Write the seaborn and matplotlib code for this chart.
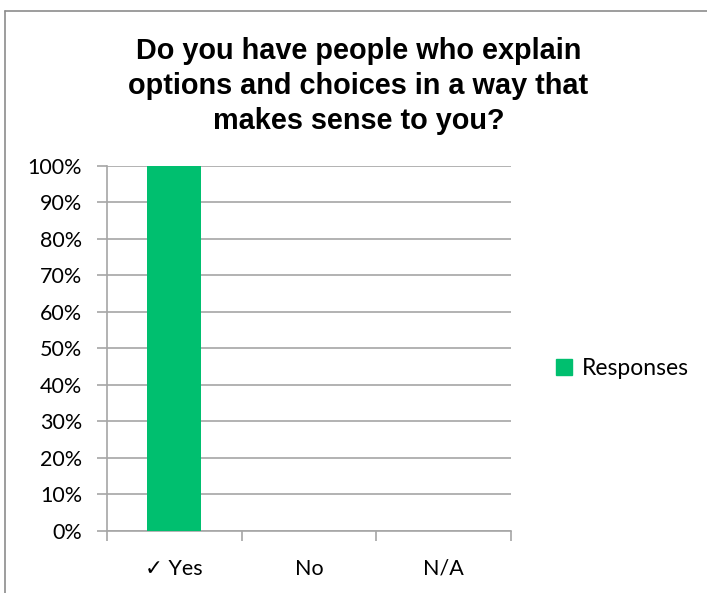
import matplotlib
matplotlib.use("Agg")
import matplotlib.pyplot as plt
import matplotlib.patches as mpatches
from matplotlib.ticker import PercentFormatter, MultipleLocator
import seaborn as sns
import pandas as pd

categories = ["✓ Yes", "No", "N/A"]
responses = [1.0, 0.0, 0.0]
series_name = "Responses"
title = "Do you have people who explain\noptions and choices in a way that\nmakes sense to you?"

bar_color = "#00BF6F"
grid_color = "#A6A6A6"

sns.set_theme(style="white")
plt.rcParams["font.family"] = ["Lato", "DejaVu Sans"]
plt.rcParams["text.color"] = "black"

df = pd.DataFrame({"category": categories, "value": responses})

fig = plt.figure(figsize=(7.07, 5.93), dpi=100)
ax = fig.add_axes([0.1513, 0.1046, 0.5715, 0.6155])

sns.barplot(data=df, x="category", y="value", color=bar_color,
            width=0.4, saturation=1, ax=ax, zorder=3,
            edgecolor="none", linewidth=0)

ax.set_ylim(0, 1)
ax.set_xlim(-0.5, 2.5)
ax.yaxis.set_major_locator(MultipleLocator(0.1))
ax.yaxis.set_major_formatter(PercentFormatter(1.0, decimals=0))
ax.grid(axis="y", color=grid_color, linewidth=1.2, zorder=0)
ax.set_xlabel("")
ax.set_ylabel("")

for side in ("top", "right"):
    ax.spines[side].set_visible(False)
for side in ("left", "bottom"):
    ax.spines[side].set_color(grid_color)
    ax.spines[side].set_linewidth(1.2)

# category boundary ticks on the x axis, labels centred between them
ax.set_xticks([-0.5, 0.5, 1.5, 2.5])
ax.set_xticklabels([])
ax.set_xticks([0, 1, 2], minor=True)
ax.set_xticklabels(categories, minor=True)
ax.tick_params(axis="x", which="major", length=7, width=1.2, color=grid_color,
               direction="out", bottom=True)
ax.tick_params(axis="x", which="minor", length=0, pad=20, labelsize=15.5,
               labelcolor="black")
ax.tick_params(axis="y", length=7, width=1.2, color=grid_color, direction="out",
               left=True, labelsize=15.5, labelcolor="black", pad=11)

fig.text(0.507, 0.937, title, ha="center", va="top", fontsize=20.8,
         fontweight="bold", family=["Liberation Sans", "DejaVu Sans"],
         color="black", linespacing=1.3)

handle = mpatches.Patch(color=bar_color, label=series_name)
fig.legend(handles=[handle], loc="center left", bbox_to_anchor=(0.757, 0.378),
           frameon=False, fontsize=16.5, handlelength=0.7, handleheight=0.7,
           handletextpad=0.45, labelcolor="black")

# outer chart border
fig.add_artist(plt.Line2D([0.0065, 0.0065], [0, 0.982], color="#8C8C8C",
                          linewidth=1.2, transform=fig.transFigure))
fig.add_artist(plt.Line2D([0.0065, 1.0], [0.982, 0.982], color="#8C8C8C",
                          linewidth=1.2, transform=fig.transFigure))

fig.savefig("out.png", dpi=100)
